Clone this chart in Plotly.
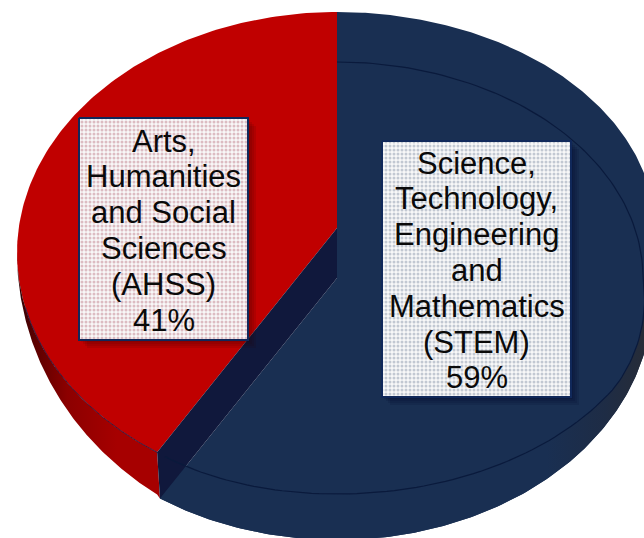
import numpy as np
import plotly.graph_objects as go

# --- chart data ---
CATEGORIES = ["AHSS", "STEM"]
SHARES = [41, 59]
LABEL_AHSS = ["Arts,", "Humanities", "and Social", "Sciences", "(AHSS)", "41%"]
LABEL_STEM = ["Science,", "Technology,", "Engineering", "and", "Mathematics", "(STEM)", "59%"]

# --- styling / projection of the tilted 3-D pie ---
W, H = 644, 538
CX = 337
RED, RED_SIDE = "#c00000", "#a60000"
NAVY, DARK, LINE = "#192f52", "#10183c", "#0a1a3c"
SKEW = -1.8
END_T = 360 * SHARES[0] / sum(SHARES) + SKEW


def arc(c, a, b, t0, t1, n=160):
    t = np.linspace(t0, t1, n)
    aa = a(t) if callable(a) else a
    r = np.radians(t)
    return CX + aa * np.sin(r), c - b * np.cos(r)


def navy_a(t):
    return np.interp(t, [0, 90, 120, 180, 360 - END_T], [306, 306, 322, 322, 306])


def poly(x, y, fill=None, **kw):
    d = dict(x=list(x), y=list(y), mode="lines", line=dict(width=0), fill="toself",
             hoverinfo="skip", showlegend=False)
    if fill:
        d["fillcolor"] = fill
    d.update(kw)
    return go.Scatter(**d)


fig = go.Figure()

# navy body silhouette
ux, uy = arc(230, 318, 218, 0, 90)
lx, ly = arc(300, 315, 240, 90, 360 - END_T)
fig.add_trace(poly(np.r_[ux, lx, CX], np.r_[uy, ly, 278], NAVY))

# navy side, darkening at the right
fx, fy = arc(278, navy_a, 216, 90, 360 - END_T)
fig.add_trace(poly(np.r_[lx, fx[::-1]], np.r_[ly, fy[::-1]],
                   fillgradient=dict(type="horizontal", start=157, stop=644,
                                     colorscale=[[0, NAVY], [0.8, NAVY], [0.92, "#1e2c45"], [1, "#262c38"]])))
# red top face
rx, ry = arc(253, 320, 241, 0, -END_T)
fig.add_trace(poly(np.r_[CX, rx], np.r_[228, ry], RED))

# red side
sx, sy = arc(253, 320, 292, -90, -END_T)
tx, ty = arc(253, 320, 241, -90, -END_T)
corner_x, corner_y = lx[-1], ly[-1]
fig.add_trace(poly(np.r_[sx, corner_x, tx[::-1]], np.r_[sy, corner_y, ty[::-1]],
                   fillgradient=dict(type="horizontal", start=17, stop=160,
                                     colorscale=[[0, "#2a0306"], [0.12, "#5a0000"], [0.35, "#8c0000"],
                                                 [0.7, RED_SIDE], [1, RED_SIDE]])))
# dark cut face between the slices
fig.add_trace(poly([CX, CX, corner_x, rx[-1]], [228, 278, corner_y, ry[-1]], DARK))

# thin rim lines
ax, ay = arc(278, navy_a, 216, 0, 360 - END_T)
fig.add_trace(go.Scatter(x=ax, y=ay, mode="lines", line=dict(color=LINE, width=1.2),
                         hoverinfo="skip", showlegend=False))
lx2, ly2 = arc(253, 320, 241, -103, -END_T)
fig.add_trace(go.Scatter(x=lx2, y=ly2, mode="lines", line=dict(color="#3a1a40", width=1),
                         hoverinfo="skip", showlegend=False))

# label boxes
boxes = [
    (79, 248, 118, 340, "#c0808c", LABEL_AHSS, 141, "rgba(40,0,0,0.10)"),
    (382, 571, 141, 397, "#8c98ac", LABEL_STEM, 163, "rgba(0,10,40,0.14)"),
]
annotations = []
for x0, x1, y0, y1, dot, lines, first_y, shadow in boxes:
    for off in (8, 6, 4, 2):
        fig.add_trace(poly([x0 + off, x1 + off, x1 + off, x0 + off, x0 + off],
                           [y0 + off, y0 + off, y1 + off, y1 + off, y0 + off], shadow))
    fig.add_trace(poly([x0, x1, x1, x0, x0], [y0, y0, y1, y1, y0],
                       line=dict(color="#10285a", width=2),
                       fillcolor="white",
                       fillpattern=dict(shape=".", fgcolor=dot, bgcolor="#f8f8f8", size=4, solidity=0.45)))
    for i, text in enumerate(lines):
        annotations.append(dict(x=(x0 + x1) / 2, y=first_y + i * 35.8, text=text, showarrow=False,
                                xanchor="center", yanchor="middle",
                                font=dict(family="Liberation Sans", size=31, color="#0a0a0a")))

fig.update_layout(
    width=W, height=H, autosize=False,
    margin=dict(l=0, r=0, t=0, b=0),
    paper_bgcolor="white", plot_bgcolor="white",
    xaxis=dict(range=[0, W], visible=False, fixedrange=True),
    yaxis=dict(range=[H, 0], visible=False, fixedrange=True),
    annotations=annotations, showlegend=False,
)
fig.write_html("out.html", config=dict(displayModeBar=False),
               post_script="document.body.style.margin='0';document.documentElement.style.overflow='hidden';")
